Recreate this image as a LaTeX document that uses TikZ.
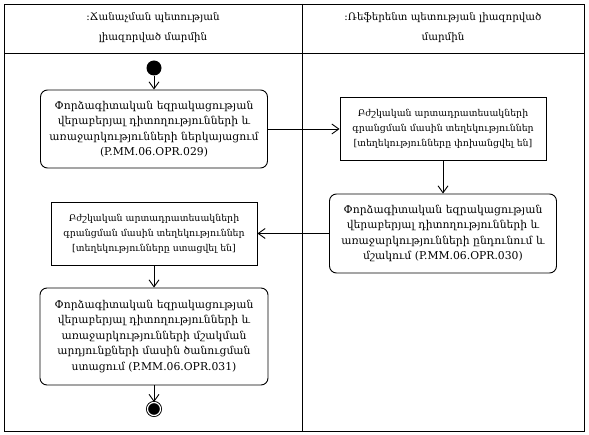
\documentclass[tikz,border=0pt]{standalone}
\usepackage{fontspec}
\setmainfont{DejaVu Serif}
\usetikzlibrary{arrows.meta}

\begin{document}
\begin{tikzpicture}[
x=1pt, y=-1pt, line width=0.9pt,
lane/.style={draw},
lanehead/.style={align=center, font=\fontsize{10.3}{20}\selectfont},
act/.style={draw, rounded corners=7pt, align=center, inner sep=0pt, font=\fontsize{10.8}{15.5}\selectfont},
obj/.style={draw, align=center, inner sep=0pt, font=\fontsize{9.4}{15}\selectfont},
start/.style={circle, fill=black, inner sep=0pt, minimum size=15pt},
stop/.style={circle, draw, double, double distance=1.2pt, fill=black, inner sep=0pt, minimum size=13pt},
flow/.style={-{Straight Barb[length=7pt,width=10pt]}}
]
\useasboundingbox (0,0) rectangle (589,435);
% swimlanes
\draw[lane] (4,4) rectangle (584,431);
\draw[lane] (4,53) -- (584,53);
\draw[lane] (302,4) -- (302,431);
\node[lanehead] (headA) at (153,28) {:Ճանաչման պետության\\լիազորված մարմին};
\node[lanehead] (headB) at (443,28) {:Ռեֆերենտ պետության լիազորված\\մարմին};

\node[start] (init) at (154,68) {};
\node[act, minimum width=227pt, minimum height=78pt] (opr29) at (154,129)
  {Փորձագիտական եզրակացության\\վերաբերյալ դիտողությունների և\\առաջարկությունների ներկայացում\\(P.MM.06.OPR.029)};
\node[obj, minimum width=206pt, minimum height=63pt] (infoSent) at (443,129)
  {Բժշկական արտադրատեսակների\\գրանցման մասին տեղեկություններ\\{[}տեղեկությունները փոխանցվել են{]}};
\node[act, minimum width=227pt, minimum height=79pt] (opr30) at (443,233.5)
  {Փորձագիտական եզրակացության\\վերաբերյալ դիտողությունների և\\առաջարկությունների ընդունում և\\մշակում (P.MM.06.OPR.030)};
\node[obj, minimum width=206pt, minimum height=63pt] (infoRecv) at (154,233.5)
  {Բժշկական արտադրատեսակների\\գրանցման մասին տեղեկություններ\\{[}տեղեկությունները ստացվել են{]}};
\node[act, minimum width=228pt, minimum height=97pt] (opr31) at (154,336.5)
  {Փորձագիտական եզրակացության\\վերաբերյալ դիտողությունների և\\առաջարկությունների մշակման\\արդյունքների մասին ծանուցման\\ստացում (P.MM.06.OPR.031)};
\node[stop] (final) at (154,409) {};

\draw[flow] (init) -- (opr29);
\draw[flow] (opr29) -- (infoSent);
\draw[flow] (infoSent) -- (opr30);
\draw[flow] (opr30) -- (infoRecv);
\draw[flow] (infoRecv) -- (opr31);
\draw[flow] (opr31) -- (final);
\end{tikzpicture}
\end{document}
